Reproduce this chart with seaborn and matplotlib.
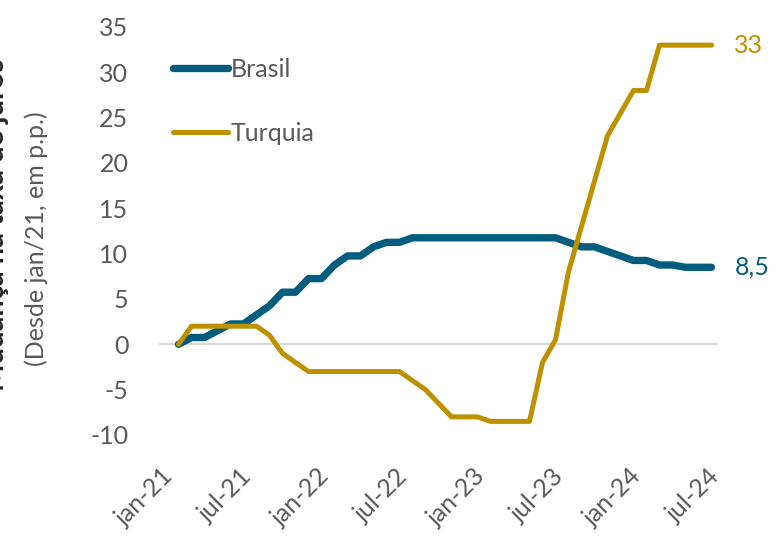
import numpy as np
import pandas as pd
import matplotlib
matplotlib.use('Agg')
import matplotlib.pyplot as plt
import matplotlib.transforms as mtransforms
import seaborn as sns

# Categorias mensais (jan-21 a jul-24); a série começa em fev-21
meses = [str(p) for p in pd.period_range('2021-01', '2024-07', freq='M')]
rotulos_x = ['jan-21', 'jul-21', 'jan-22', 'jul-22', 'jan-23', 'jul-23', 'jan-24', 'jul-24']

# Mudança na taxa de juros (p.p.), fev-21 a jul-24
brasil = [0, 0.75, 0.75, 1.5, 2.25, 2.25, 3.25, 4.25, 5.75, 5.75,
          7.25, 7.25, 8.75, 9.75, 9.75, 10.75, 11.25, 11.25, 11.75, 11.75,
          11.75, 11.75, 11.75, 11.75, 11.75, 11.75, 11.75, 11.75, 11.75, 11.75,
          11.25, 10.75, 10.75, 10.25, 9.75, 9.25, 9.25, 8.75, 8.75, 8.5,
          8.5, 8.5]
turquia = [0, 2, 2, 2, 2, 2, 2, 1, -1, -2,
           -3, -3, -3, -3, -3, -3, -3, -3, -4, -5,
           -6.5, -8, -8, -8, -8.5, -8.5, -8.5, -8.5, -2, 0.5,
           8, 13, 18, 23, 25.5, 28, 28, 33, 33, 33,
           33, 33]

cor_brasil = '#005D7E'
cor_turquia = '#BF9000'
cinza = '#595959'

df = pd.DataFrame({'mes': meses})
df['pos'] = np.arange(len(meses))
df['Brasil'] = [np.nan] + brasil
df['Turquia'] = [np.nan] + turquia

sns.set_style('white')
plt.rcParams['font.family'] = ['Lato', 'DejaVu Sans']
plt.rcParams['axes.unicode_minus'] = False

fig = plt.figure(figsize=(7.77, 5.36), dpi=100)
ax = fig.add_axes([159 / 777, 1 - 435 / 536, 559 / 777, 408 / 536])

ax.axhline(0, color='#D9D9D9', lw=1.6, zorder=1)
sns.lineplot(data=df, x='pos', y='Brasil', color=cor_brasil, lw=5.3,
             solid_capstyle='round', solid_joinstyle='round', label='Brasil', ax=ax, zorder=2)
sns.lineplot(data=df, x='pos', y='Turquia', color=cor_turquia, lw=3.6,
             solid_capstyle='round', solid_joinstyle='round', label='Turquia', ax=ax, zorder=3)

ax.set_xlim(-0.5, len(meses) - 0.5)
ax.set_ylim(-10, 35)
ax.set_yticks(range(-10, 36, 5))
ax.set_xticks([meses.index(m) for m in pd.period_range('2021-01', '2024-07', freq='6M').astype(str)])
ax.set_xticklabels(rotulos_x, rotation=45, ha='right', va='top', rotation_mode='anchor')
ax.tick_params(axis='both', length=0, labelsize=18, labelcolor=cinza)
ax.tick_params(axis='y', pad=22)
ax.tick_params(axis='x', pad=21)
desloc = mtransforms.ScaledTranslation(-4 / 100, 0, fig.dpi_scale_trans)
for lab in ax.get_xticklabels():
    lab.set_transform(lab.get_transform() + desloc)

ax.set_xlabel('')
ax.set_ylabel('')
sns.despine(ax=ax, left=True, bottom=True)

# rótulos no fim das linhas
for serie, cor in [(brasil, cor_brasil), (turquia, cor_turquia)]:
    txt = f'{serie[-1]:g}'.replace('.', ',')
    ax.annotate(txt, xy=(len(meses) - 1, serie[-1]), xytext=(16.5, 0),
                textcoords='offset points', color=cor, fontsize=18,
                ha='left', va='center', annotation_clip=False)

leg = ax.legend(loc='upper left', bbox_to_anchor=(0.025, 0.925), frameon=False,
                fontsize=18, handlelength=2.2, handletextpad=0.1,
                labelspacing=1.65, borderpad=0, borderaxespad=0)
for t in leg.get_texts():
    t.set_color(cinza)

fig.text(-0.005, 0.58, 'Mudança na taxa de juros', rotation=90, ha='center',
         va='center', fontsize=21, fontweight='bold', color='#262626')
fig.text(0.0463, 1 - 239 / 536, '(Desde jan/21, em p.p.)', rotation=90,
         ha='center', va='center', fontsize=18, color=cinza)

fig.savefig('out.png', dpi=100)
